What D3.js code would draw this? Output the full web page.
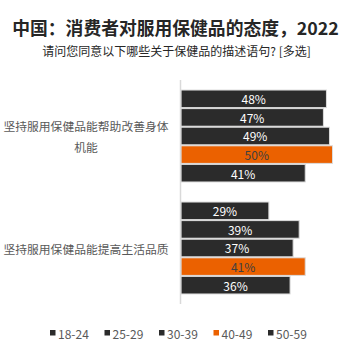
<!DOCTYPE html>
<html><head><meta charset="utf-8">
<script src="https://cdn.jsdelivr.net/npm/d3@7"></script>
<style>
body{margin:0;background:#fff;}
svg{display:block;font-family:"Noto Sans CJK SC","Microsoft YaHei",sans-serif;}
</style></head>
<body><svg id="c" width="351" height="348"></svg>
<script>
const title = "中国：消费者对服用保健品的态度，2022";
const subtitle = "请问您同意以下哪些关于保健品的描述语句? [多选]";
const categories = [["坚持服用保健品能帮助改善身体","机能"],["坚持服用保健品能提高生活品质"]];
const seriesNames = ["18-24","25-29","30-39","40-49","50-59"];
const seriesColors = ["#2b2b2b","#2b2b2b","#2b2b2b","#eb6100","#2b2b2b"];
const labelColors = ["#ffffff","#ffffff","#ffffff","#404040","#ffffff"];
const values = [
  [48,47,49,50,41],
  [29,39,37,41,36]
];

const svg = d3.select("#c");
svg.append("text").attr("x",175.5).attr("y",27).attr("text-anchor","middle")
  .attr("dominant-baseline","central").attr("font-size",17.8).attr("font-weight","bold")
  .attr("fill","#262626").text(title);
svg.append("text").attr("x",176.5).attr("y",50).attr("text-anchor","middle")
  .attr("dominant-baseline","central").attr("font-size",12).attr("fill","#262626").text(subtitle);

const x = d3.scaleLinear().domain([0,55]).range([181,181+55*3.03]);
const y0 = d3.scaleBand().domain(d3.range(categories.length)).range([80,304]).paddingInner(0.17).paddingOuter(0.085);
const y1 = d3.scaleBand().domain(d3.range(seriesNames.length)).range([0,y0.bandwidth()]);

const g = svg.append("g");
values.forEach((row,ci)=>{
  const gg = g.append("g").attr("transform",`translate(0,${y0(ci)})`);
  gg.selectAll("rect").data(row).join("rect")
    .attr("x",x(0)).attr("y",(d,i)=>y1(i)+0.5)
    .attr("width",d=>x(d)-x(0)).attr("height",y1.bandwidth()-1)
    .attr("fill",(d,i)=>seriesColors[i]).attr("stroke","#dcdcdc").attr("stroke-width",1);
  gg.selectAll("text").data(row).join("text")
    .attr("x",d=>(x(d)+x(0))/2).attr("y",(d,i)=>y1(i)+y1.bandwidth()/2)
    .attr("text-anchor","middle").attr("dominant-baseline","central")
    .attr("font-size",12).attr("fill",(d,i)=>labelColors[i]).text(d=>d+"%");
});

// axis line
svg.append("line").attr("x1",180.5).attr("x2",180.5).attr("y1",80).attr("y2",304)
  .attr("stroke","#d9d9d9").attr("stroke-width",1.5);

// category labels
categories.forEach((lines,ci)=>{
  const cy = y0(ci)+y0.bandwidth()/2;
  const lh = 21;
  lines.forEach((t,li)=>{
    svg.append("text").attr("x",86).attr("y",cy+(li-(lines.length-1)/2)*lh)
      .attr("text-anchor","middle").attr("dominant-baseline","central")
      .attr("font-size",11.8).attr("fill","#595959").text(t);
  });
});

// legend
const lg = svg.append("g");
seriesNames.forEach((n,i)=>{
  const lx = 50 + i*54.5;
  lg.append("rect").attr("x",lx).attr("y",330).attr("width",5.5).attr("height",5.5).attr("fill",seriesColors[i]);
  lg.append("text").attr("x",lx+8).attr("y",333).attr("dominant-baseline","central")
    .attr("font-size",12).attr("fill","#595959").text(n);
});
</script></body></html>
